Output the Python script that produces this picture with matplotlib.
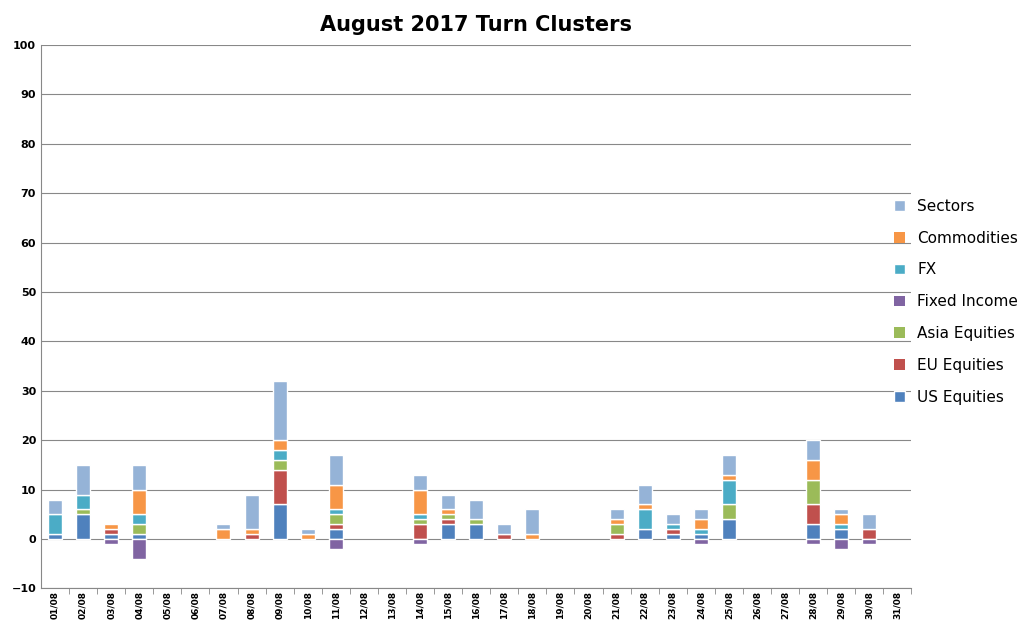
import matplotlib.pyplot as plt
import numpy as np

days = [f"{d:02d}/08" for d in range(1, 32)]
def arr(d):
    a = np.zeros(31)
    for k, v in d.items(): a[k-1] = v
    return a
us = arr({1:1,2:5,3:1,4:1,9:7,11:2,15:3,16:3,22:2,23:1,24:1,25:4,28:3,29:2})
eu = arr({3:1,8:1,9:7,11:1,14:3,15:1,17:1,21:1,23:1,28:4,30:2})
asia = arr({2:1,4:2,9:2,11:2,14:1,15:1,16:1,21:2,25:3,28:5})
fi = arr({3:-1,4:-4,11:-2,14:-1,24:-1,28:-1,29:-2,30:-1})
fx = arr({1:4,2:3,4:2,9:2,11:1,14:1,22:4,23:1,24:1,25:5,29:1})
comm = arr({3:1,4:5,7:2,8:1,9:2,10:1,11:5,14:5,15:1,18:1,21:1,22:1,24:2,25:1,28:4,29:2})
sectors = arr({1:3,2:6,4:5,7:1,8:7,9:12,10:1,11:6,14:3,15:3,16:4,17:2,18:5,21:2,22:4,23:2,24:2,25:4,28:4,29:1,30:3})

series = [("US Equities", us, "#4F81BD"), ("EU Equities", eu, "#C0504D"),
          ("Asia Equities", asia, "#9BBB59"), ("Fixed Income", fi, "#8064A2"),
          ("FX", fx, "#4BACC6"), ("Commodities", comm, "#F79646"),
          ("Sectors", sectors, "#95B3D7")]

fig = plt.figure(figsize=(10.24, 6.26), dpi=100)
ax = fig.add_axes([0.04, 0.06, 0.85, 0.868])
x = np.arange(31)
pos = np.zeros(31); neg = np.zeros(31)
for name, v, c in series:
    bottom = np.where(v >= 0, pos, neg)
    lw = np.where(v != 0, 1.0, 0.0)
    ax.bar(x, v, 0.5, bottom=bottom, color=c, edgecolor="white", linewidth=lw, label=name, zorder=3)
    pos = pos + np.where(v > 0, v, 0); neg = neg + np.where(v < 0, v, 0)
ax.set_ylim(-10, 100)
ax.set_xlim(-0.5, 30.5)
ax.set_yticks(range(-10, 101, 10))
ax.yaxis.grid(True, color="#888888", linewidth=0.8, zorder=0)
ax.set_xticks(np.arange(31) + 0.5, minor=True)
ax.set_xticks(x)
ax.set_xticklabels(days, rotation=90, fontweight="bold", fontsize=6.5)
ax.tick_params(axis="x", which="major", length=0, pad=2)
ax.tick_params(axis="x", which="minor", length=4, color="#888888")
ax.tick_params(axis="y", length=0, labelsize=8)
for t in ax.get_yticklabels(): t.set_fontweight("bold")
for s in ["top", "right"]: ax.spines[s].set_visible(False)
ax.spines["left"].set_color("#888888"); ax.spines["bottom"].set_color("#888888")
ax.set_title("August 2017 Turn Clusters", fontsize=15, fontweight="bold", pad=10)
h, l = ax.get_legend_handles_labels()
fig.legend(h[::-1], l[::-1], loc="center left", bbox_to_anchor=(0.86, 0.518), frameon=False,
           fontsize=11, handlelength=0.7, handleheight=0.7, labelspacing=1.1)
fig.savefig("out.png")
